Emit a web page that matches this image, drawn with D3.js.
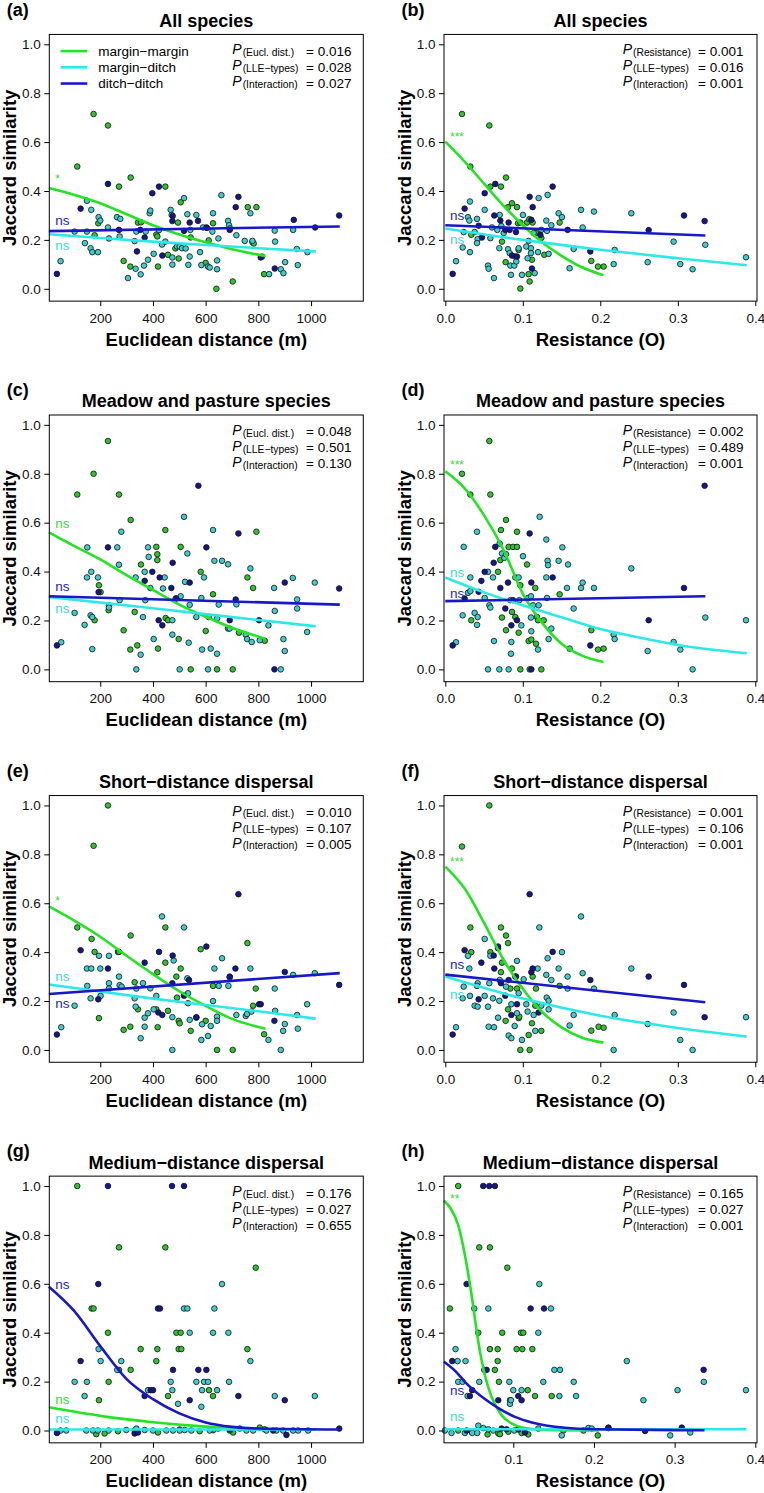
<!DOCTYPE html>
<html>
<head>
<meta charset="utf-8">
<script src="https://cdn.jsdelivr.net/npm/d3@7"></script>
<style>
  body { margin: 0; background: #fff; }
  svg { display: block; }
  text { font-family: "Liberation Sans", Arial, Helvetica, sans-serif; }
</style>
</head>
<body>
<div id="chart"></div>
<script>
// ---- data ----
// MM = margin-margin, MD = margin-ditch, DD = ditch-ditch ; x = distance (m) or resistance
const aMM = [[174.7,0.715],[229.2,0.668],[112.7,0.5],[315.3,0.455],[271,0.418],[447,0.418],[192.5,0.268],[178.5,0.219],[343,0.271],[354.5,0.272],[412.8,0.222],[416.6,0.214],[505.2,0.354],[495,0.271],[628,0.268],[543,0.21],[605,0.249],[611.6,0.198],[759.7,0.334],[792.6,0.334],[777.5,0.191],[782.5,0.185],[288.7,0.114],[314,0.091],[419,0.091],[457,0.139],[497.6,0.124],[600,0.106],[640.7,0],[702.7,0.03],[821.8,0.06],[485,0.165]];
const aMD = [[49.4,0.113],[102.6,0.234],[149.4,0.36],[165.9,0.323],[149.4,0.234],[141.8,0.187],[163.3,0.166],[169.7,0.15],[191.2,0.15],[193.7,0.293],[200,0.279],[229.2,0.251],[233,0.206],[263.4,0.293],[273.5,0.214],[276,0.286],[305.2,0.044],[334.3,0.082],[353.3,0.059],[336.8,0.234],[330.5,0.195],[366,0.095],[372.3,0.234],[381.1,0.119],[387.5,0.309],[390,0.32],[402.7,0.143],[423,0.24],[434.3,0.181],[447,0.193],[467.2,0.323],[471,0.302],[473.6,0.128],[473.6,0.099],[491.3,0.173],[501.4,0.173],[510.3,0.166],[517.9,0.371],[524.2,0.165],[530.5,0.305],[534.3,0.098],[539.4,0.132],[541.9,0.241],[564.7,0.302],[578.7,0.15],[583.7,0.097],[590,0.251],[609,0.091],[615.4,0.087],[628,0.309],[625.5,0.234],[643.2,0.116],[643.2,0.08],[648.3,0.206],[659.7,0.383],[685,0.278],[688.8,0.26],[692.6,0.247],[716.7,0.219],[748.3,0.196],[769.8,0.309],[777.5,0.196],[814.2,0.132],[840.8,0.06],[862.3,0.238],[863.5,0.193],[885.1,0.08],[895.2,0.064],[901.5,0.109],[931.9,0.241],[945.9,0.163],[949.7,0.097],[986.4,0.15]];
const aDD = [[35.5,0.061],[125.4,0.328],[229.2,0.429],[271,0.241],[339.3,0.153],[352,0.241],[368.5,0.21],[397.6,0.391],[423,0.418],[435.6,0.136],[474.8,0.298],[473.6,0.277],[517.9,0.237],[539.4,0.271],[571,0.278],[602.7,0.251],[691.3,0.241],[714.1,0.334],[724.3,0.376],[809.1,0.128],[862.3,0.083],[934.5,0.282],[1015.5,0.251],[1106.7,0.3]];
const aFitMM = [[5,0.412],[100,0.385],[200,0.35],[300,0.305],[400,0.26],[500,0.222],[600,0.19],[700,0.162],[827,0.134]];
const aFitMD = [[5,0.223],[200,0.208],[400,0.193],[600,0.179],[800,0.166],[1018,0.153]];
const aFitDD = [[5,0.236],[1109,0.255]];

const bMM = [[0.0215,0.715],[0.0568,0.668],[0.0323,0.5],[0.0783,0.455],[0.0581,0.418],[0.0718,0.418],[0.086,0.35],[0.0809,0.334],[0.0925,0.334],[0.0335,0.221],[0.0731,0.193],[0.0938,0.268],[0.0968,0.271],[0.1054,0.271],[0.1084,0.285],[0.1127,0.271],[0.117,0.228],[0.1239,0.208],[0.1277,0.139],[0.1475,0.271],[0.0778,0.109],[0.0946,0.159],[0.1075,0.06],[0.1088,0.03],[0.1118,0.119],[0.0968,0.001],[0.1884,0.114],[0.197,0.091],[0.2043,0.091]];
const bMD = [[0.0138,0.113],[0.0224,0.169],[0.0318,0.15],[0.0318,0.357],[0.0292,0.293],[0.031,0.279],[0.0237,0.232],[0.0378,0.232],[0.0409,0.286],[0.0417,0.203],[0.0409,0.187],[0.0508,0.323],[0.0551,0.095],[0.0559,0.082],[0.0581,0.207],[0.0628,0.044],[0.0602,0.251],[0.0671,0.241],[0.0697,0.166],[0.0701,0.302],[0.0723,0.257],[0.0753,0.228],[0.0809,0.162],[0.083,0.146],[0.0839,0.095],[0.0847,0.057],[0.089,0.095],[0.0903,0.132],[0.0916,0.112],[0.0946,0.166],[0.0989,0.057],[0.1002,0.302],[0.1045,0.173],[0.1062,0.125],[0.1075,0.196],[0.1105,0.166],[0.1105,0.146],[0.114,0.228],[0.1153,0.064],[0.1196,0.15],[0.1204,0.371],[0.1239,0.241],[0.1303,0.279],[0.1312,0.237],[0.132,0.384],[0.1333,0.143],[0.1368,0.26],[0.1462,0.309],[0.1505,0.293],[0.1604,0.084],[0.1656,0.163],[0.1751,0.323],[0.1772,0.251],[0.1918,0.316],[0.2185,0.159],[0.2172,0.101],[0.24,0.309],[0.2611,0.109],[0.2946,0.193],[0.3032,0.101],[0.3191,0.08],[0.3355,0.18],[0.388,0.129]];
const bDD = [[0.0095,0.061],[0.0249,0.328],[0.0508,0.391],[0.0645,0.429],[0.0632,0.3],[0.071,0.279],[0.043,0.258],[0.0473,0.21],[0.0817,0.271],[0.083,0.241],[0.0774,0.241],[0.0912,0.232],[0.086,0.136],[0.0925,0.132],[0.1088,0.376],[0.1127,0.334],[0.111,0.282],[0.1118,0.083],[0.1226,0.221],[0.1385,0.418],[0.1578,0.241],[0.1871,0.153],[0.2624,0.24],[0.308,0.3],[0.3346,0.277]];
const bFitMM = [[0,0.602],[0.025,0.52],[0.05,0.43],[0.075,0.34],[0.1,0.26],[0.125,0.19],[0.15,0.135],[0.175,0.09],[0.204,0.055]];
const bFitMD = [[0,0.247],[0.1,0.2],[0.2,0.16],[0.3,0.125],[0.389,0.096]];
const bFitDD = [[0,0.26],[0.3355,0.218]];

const cMM = [[229.2,0.934],[174.7,0.8],[112.7,0.715],[271,0.715],[315.3,0.611],[447,0.57],[792.6,0.563],[412.8,0.501],[505.2,0.501],[416.6,0.471],[416.6,0.447],[354.5,0.429],[581.2,0.399],[758.5,0.376],[195,0.344],[780,0.333],[628,0.307],[201.3,0.316],[231.7,0.242],[178.5,0.201],[330.5,0.235],[448.2,0.21],[457.1,0.201],[600.2,0.157],[288.7,0.16],[340.6,0.098],[314,0.081],[419.1,0.085],[497.6,0.124],[726.8,0.15],[824.3,0.117],[543.2,0],[643.2,0],[702.7,0],[685,0.167]];
const cMD = [[51.9,0.111],[102.6,0.231],[140.5,0.182],[150.7,0.499],[149.4,0.376],[165.9,0.399],[163.3,0.221],[169.7,0.083],[169.7,0.214],[191.2,0.376],[233,0.262],[233,0.253],[264.6,0.499],[271,0.428],[279.8,0.563],[273.5,0.283],[334.3,0.376],[353.3,0.06],[336.8,0],[362.1,0.214],[368.5,0.399],[371,0.283],[381.1,0.499],[383.7,0.46],[390,0.333],[402.7,0.124],[438.1,0.331],[444.4,0.376],[473.6,0.201],[473.6,0.142],[486.2,0.29],[501.4,0],[505.2,0.299],[517.9,0.624],[521.7,0.358],[530.5,0.474],[535.6,0.109],[539.4,0.264],[564.7,0.214],[583.7,0.292],[586.3,0.081],[593.8,0.376],[609,0],[611.6,0.214],[619.2,0.085],[628,0.57],[633.1,0.444],[643.2,0.208],[643.2,0.064],[649.6,0.265],[662.2,0.444],[685,0.43],[691.3,0.167],[716.7,0.266],[752.1,0.142],[757.2,0.124],[769.8,0.413],[774.9,0.112],[805.3,0.119],[838.2,0.18],[859.7,0.333],[862.3,0.239],[885.1,0],[895.2,0.124],[900.3,0.075],[930.7,0.374],[947.1,0.286],[947.1,0.249],[985.1,0.153],[1014.2,0.355]];
const cDD = [[35.5,0.098],[229.2,0.499],[193.7,0.316],[368.5,0.362],[397.6,0.399],[425.4,0.376],[421.6,0.201],[435.6,0.18],[474.8,0.436],[469.8,0.333],[488.8,0.29],[539.4,0.355],[572.3,0.751],[602.7,0.499],[724.3,0.556],[714.1,0.286],[691.3,0.201],[802.8,0.201],[861,0],[900.3,0.355],[1106.7,0.331]];
const cFitMM = [[5,0.56],[100,0.505],[200,0.45],[300,0.385],[400,0.325],[500,0.265],[600,0.215],[700,0.17],[827,0.125]];
const cFitMD = [[5,0.296],[400,0.25],[800,0.202],[1018,0.176]];
const cFitDD = [[5,0.299],[1109,0.265]];

const dMM = [[0.0568,0.934],[0.0215,0.8],[0.0323,0.715],[0.0581,0.715],[0.0783,0.611],[0.0718,0.57],[0.0925,0.563],[0.0817,0.501],[0.0873,0.501],[0.0925,0.501],[0.071,0.447],[0.068,0.399],[0.1054,0.429],[0.0968,0.344],[0.1161,0.333],[0.1475,0.307],[0.0335,0.201],[0.0731,0.212],[0.086,0.235],[0.0903,0.214],[0.0783,0.16],[0.0946,0.15],[0.1075,0.116],[0.111,0.122],[0.117,0.105],[0.1183,0.214],[0.1196,0.201],[0.1269,0.201],[0.1884,0.16],[0.197,0.081],[0.2043,0.085],[0.0968,0],[0.1088,0],[0.1239,0]];
const dMD = [[0.0138,0.111],[0.0237,0.501],[0.0224,0.221],[0.0292,0.313],[0.0323,0.376],[0.0323,0.32],[0.0378,0.231],[0.0409,0.563],[0.0417,0.214],[0.0409,0.182],[0.0508,0.292],[0.0551,0.399],[0.0568,0.262],[0.0581,0.253],[0.0551,0],[0.0615,0.376],[0.0628,0.116],[0.0697,0],[0.0701,0.515],[0.0731,0.474],[0.0761,0.456],[0.0783,0.471],[0.0817,0],[0.0852,0.112],[0.0847,0.064],[0.0839,0.283],[0.0903,0.376],[0.0946,0.376],[0.0981,0.18],[0.1002,0.463],[0.0955,0.283],[0.1067,0.292],[0.1105,0.299],[0.1105,0.212],[0.111,0.156],[0.1131,0.262],[0.1196,0.081],[0.1204,0.262],[0.1217,0.624],[0.1303,0.531],[0.1312,0.292],[0.132,0.444],[0.1325,0.426],[0.1303,0.376],[0.1333,0.124],[0.1368,0.167],[0.1462,0.444],[0.151,0.499],[0.157,0.333],[0.1583,0.429],[0.1604,0.085],[0.1656,0.249],[0.1751,0.333],[0.1772,0.355],[0.1918,0.333],[0.2172,0.142],[0.2185,0.124],[0.24,0.413],[0.2611,0.075],[0.2946,0.112],[0.3032,0.081],[0.3191,0],[0.3355,0.212],[0.388,0.201]];
const dDD = [[0.0095,0.098],[0.0249,0.29],[0.043,0.317],[0.0465,0.362],[0.0508,0.399],[0.0624,0.436],[0.0645,0.501],[0.071,0.333],[0.0809,0.355],[0.0774,0.249],[0.0852,0.18],[0.0873,0.283],[0.0925,0.201],[0.1088,0.556],[0.111,0.355],[0.111,0],[0.1385,0.376],[0.1871,0.098],[0.2624,0.201],[0.308,0.333],[0.3346,0.751]];
const dFitMM = [[0,0.81],[0.025,0.74],[0.05,0.63],[0.075,0.49],[0.1,0.31],[0.125,0.19],[0.15,0.105],[0.175,0.058],[0.204,0.03]];
const dFitMD = [[0,0.376],[0.05,0.315],[0.1,0.262],[0.15,0.213],[0.2,0.165],[0.25,0.13],[0.3,0.1],[0.389,0.066]];
const dFitDD = [[0,0.279],[0.3355,0.299]];

const eMM = [[229.2,1],[174.7,0.835],[112.7,0.501],[167.1,0.454],[178.5,0.401],[267.2,0.401],[271,0.401],[315.3,0.468],[447,0.501],[447,0.357],[416.6,0.318],[488.8,0.3],[505.2,0.333],[581.2,0.412],[758.5,0.437],[195,0.13],[330.5,0.277],[343.1,0.166],[412.8,0.166],[417.8,0.093],[457.1,0.16],[497.6,0.119],[501.4,0.109],[491.3,0.214],[543.2,0.078],[600.2,0.119],[628,0.262],[643.2,0],[702.7,0],[790.1,0.251],[780,0.181],[821.8,0.064],[288.7,0.082],[314,0.095]];
const eMD = [[51.9,0.093],[102.6,0.181],[149.4,0.333],[165.9,0.333],[150.7,0.262],[163.3,0.211],[195,0.385],[200,0.333],[201.3,0.221],[233,0.385],[233,0.273],[233,0.251],[271,0.3],[273.5,0.265],[281.1,0.259],[336.8,0.251],[334.3,0.177],[330.5,0.211],[353.3,0.048],[362.1,0.273],[368.5,0.132],[368.5,0.095],[381.1,0.15],[390,0.252],[402.7,0.166],[412.8,0.221],[434.3,0.546],[473.6,0.134],[473.6,0],[478.6,0.366],[517.9,0.501],[530.5,0.293],[533.1,0.232],[533.1,0.191],[539.4,0.123],[564.7,0.132],[583.7,0.041],[586.3,0.105],[609,0.057],[619.2,0.098],[628,0.2],[633.1,0.333],[643.2,0.136],[643.2,0.119],[649.6,0.262],[662.2,0.375],[686.3,0.262],[691.3,0.297],[716.7,0.143],[752.1,0.139],[757.2,0.147],[769.8,0.333],[773.7,0.157],[838.2,0.041],[862.3,0.251],[863.5,0.16],[885.1,0],[894,0.078],[900.3,0.106],[931.9,0.307],[947.1,0.143],[949.7,0.087],[985.1,0.187],[1014.2,0.314]];
const eDD = [[35.5,0.063],[125.4,0.408],[192.5,0.207],[229.2,0.333],[368.5,0.357],[423,0.401],[420.4,0.153],[435.6,0.143],[474.8,0.386],[473.6,0.273],[517.9,0.222],[536.9,0.286],[564.7,0.134],[602.7,0.423],[691.3,0.3],[712.9,0.333],[724.3,0.637],[802.8,0.187],[809.1,0.187],[861,0.119],[900.3,0.319],[1106.7,0.266]];
const eFitMM = [[5,0.587],[100,0.53],[200,0.463],[300,0.385],[400,0.31],[500,0.24],[600,0.18],[700,0.127],[827,0.087]];
const eFitMD = [[5,0.268],[400,0.21],[800,0.158],[1018,0.128]];
const eFitDD = [[5,0.229],[1109,0.314]];

const fMM = [[0.0568,1],[0.0215,0.832],[0.0323,0.501],[0.0335,0.4],[0.0581,0.4],[0.0718,0.501],[0.0783,0.468],[0.0809,0.437],[0.068,0.416],[0.0718,0.318],[0.0731,0.357],[0.086,0.333],[0.0903,0.3],[0.0925,0.251],[0.0839,0.251],[0.0809,0.166],[0.0778,0.119],[0.0946,0.13],[0.0955,0.136],[0.0968,0],[0.1088,0],[0.1075,0.061],[0.1118,0.109],[0.1127,0.3],[0.117,0.251],[0.1161,0.181],[0.1239,0.078],[0.1475,0.262],[0.1884,0.079],[0.1978,0.095],[0.2043,0.091]];
const fMD = [[0.0138,0.093],[0.0237,0.259],[0.0224,0.211],[0.0292,0.385],[0.031,0.333],[0.0318,0.221],[0.0378,0.181],[0.0417,0.177],[0.0417,0.273],[0.0409,0.262],[0.0508,0.454],[0.0508,0.221],[0.0551,0.177],[0.0559,0.095],[0.0568,0.273],[0.0581,0.385],[0.0628,0.093],[0.0615,0.211],[0.068,0.132],[0.0697,0.201],[0.0701,0.286],[0.0783,0.259],[0.0817,0.059],[0.0852,0.187],[0.0852,0.048],[0.0895,0.098],[0.0925,0.364],[0.0925,0.15],[0.0946,0.232],[0.0989,0.041],[0.1011,0.289],[0.1045,0.187],[0.1062,0.157],[0.114,0.143],[0.1161,0.078],[0.1191,0.333],[0.1213,0.501],[0.1239,0.181],[0.1303,0.307],[0.1308,0.214],[0.132,0.375],[0.1333,0.201],[0.1333,0.166],[0.1368,0.286],[0.1505,0.4],[0.1462,0.333],[0.1578,0.3],[0.1578,0.251],[0.1604,0.1],[0.1656,0.143],[0.1751,0.546],[0.1772,0.314],[0.1918,0.251],[0.2172,0],[0.2185,0.143],[0.24,0.333],[0.2611,0.106],[0.2946,0.153],[0.3032,0.041],[0.3191,0],[0.388,0.134]];
const fDD = [[0.0095,0.063],[0.0249,0.408],[0.043,0.207],[0.0465,0.357],[0.0632,0.333],[0.0624,0.386],[0.068,0.423],[0.0718,0.273],[0.0774,0.222],[0.0817,0.286],[0.0852,0.143],[0.0912,0.3],[0.0925,0.187],[0.1088,0.637],[0.111,0.318],[0.1127,0.333],[0.1204,0.153],[0.1385,0.401],[0.1871,0.286],[0.2624,0.3],[0.308,0.266],[0.3346,0.134]];
const fFitMM = [[0,0.75],[0.025,0.66],[0.05,0.52],[0.075,0.37],[0.1,0.25],[0.125,0.155],[0.15,0.092],[0.175,0.052],[0.204,0.03]];
const fFitMD = [[0,0.3],[0.1,0.21],[0.2,0.14],[0.3,0.09],[0.389,0.055]];
const fFitDD = [[0,0.308],[0.3355,0.195]];

const gMM = [[112.7,1],[271,0.749],[447,0.749],[790.1,0.666],[167.1,0.499],[174.7,0.499],[229.2,0.4],[488.8,0.4],[505.2,0.4],[353.3,0.333],[416.6,0.333],[497.6,0.333],[507.7,0.333],[758.5,0.333],[412.8,0.284],[271,0.248],[315.3,0.248],[231.7,0.199],[612.8,0.165],[195,0.124],[457.1,0.141],[628,0.141],
  [184.9,-0.015],[216.5,-0.012],[267.2,-0.003],[330.5,0.001],[419.1,-0.008],[501.4,0.004],[577.4,-0.003],[628,0.001],[704,-0.008],[729.3,0.008],[805.3,0.012],[824.3,0.005]];
const gMD = [[102.6,0.199],[149.4,0.199],[140.5,0.141],[193.7,0.333],[201.3,0.284],[279.8,0.284],[264.6,0.248],[381.1,0.165],[467.2,0.199],[473.6,0.165],[517.9,0.499],[530.5,0.499],[539.4,0.4],[495.1,0.109],[564.7,0.199],[586.3,0.165],[583.7,0.097],[593.8,0.199],[609,0.199],[628,0.4],[633.1,0.499],[643.2,0.165],[662.2,0.599],[686.3,0.4],[688.8,0.199],[769.8,0.284],[862.3,0.141],[1014.2,0.141],
  [49.4,0],[70.9,0],[146.9,0],[172.2,0],[191.2,0],[231.7,0],[298.8,0.002],[336.8,0.008],[368.5,0.002],[400.1,0],[450.8,0],[476.1,0],[501.4,0],[520.4,0.002],[545.7,0],[615.4,0],[647,0.008],[691.4,0],[754.7,0],[780,0],[830.6,0],[868.6,0],[894,0],[932,0],[951,0],[989,0]];
const gDD = [[229.2,1],[472.3,1],[517.9,1],[192.5,0.599],[419.1,0.499],[426.7,0.499],[125.4,0.284],[476.1,0.248],[572.3,0.248],[602.7,0.248],[368.5,0.141],[391.3,0.165],[400.1,0.165],[539.4,0.124],[724.3,0.141],[900.3,0.124],
  [35.5,-0.01],[330.5,-0.012],[343,-0.008],[691,0.004],[856,0],[906.6,-0.018],[1107,0.008]];
const gFitMM = [[5,0.095],[200,0.06],[400,0.034],[600,0.016],[827,0.006]];
const gFitMD = [[5,0.004],[1018,0.004]];
const gFitDD = [[5,0.588],[100,0.49],[200,0.345],[300,0.21],[400,0.128],[500,0.07],[600,0.033],[700,0.015],[800,0.008],[1109,0.004]];

const hMM = [[0.0317,1],[0.0214,0.499],[0.0578,0.749],[0.071,0.749],[0.0926,0.666],[0.0566,0.4],[0.0863,0.4],[0.1095,0.4],[0.1124,0.4],[0.071,0.333],[0.0806,0.333],[0.1041,0.333],[0.1112,0.333],[0.1236,0.333],[0.0806,0.284],[0.0772,0.248],[0.0822,0.199],[0.0959,0.124],[0.1178,0.165],[0.1269,0.141],[0.1476,0.141],
  [0.0317,0],[0.0483,-0.005],[0.0681,-0.016],[0.0814,-0.012],[0.0834,-0.015],[0.0938,-0.005],[0.1103,-0.01],[0.1186,-0.016],[0.162,0],[0.1869,0],[0.2047,-0.02]];
const hMD = [[0.0284,0.333],[0.0309,0.284],[0.0408,0.284],[0.0317,0.199],[0.0371,0.199],[0.0433,0.141],[0.0516,0.499],[0.069,0.499],[0.0578,0.199],[0.064,0.248],[0.0951,0.199],[0.0959,0.109],[0.0971,0.124],[0.1,0.165],[0.1103,0.165],[0.1323,0.599],[0.131,0.4],[0.1467,0.499],[0.1372,0.199],[0.1509,0.248],[0.1579,0.248],[0.1571,0.141],[0.1749,0.199],[0.1778,0.141],[0.2407,0.284],[0.2613,0.124],[0.3036,0.165],[0.3362,0.199],[0.3884,0.165],
  [0.0152,0],[0.0234,-0.01],[0.04,-0.01],[0.0491,-0.01],[0.0553,-0.01],[0.0566,0.02],[0.0628,0.01],[0.069,0.005],[0.0752,0],[0.1012,0],[0.1062,0.005],[0.131,0.008],[0.16,-0.02],[0.1931,0.01],[0.1972,0.008],[0.2179,0.01],[0.2945,-0.02],[0.3193,-0.008]];
const hDD = [[0.0627,1],[0.0702,1],[0.0772,1],[0.0421,0.599],[0.0243,0.284],[0.1215,0.499],[0.1381,0.499],[0.0669,0.248],[0.0491,0.165],[0.0462,0.141],[0.0814,0.124],[0.1062,0.141],[0.1103,0.124],[0.3359,0.248],
  [0.0421,0],[0.0855,0.008],[0.0917,0.005],[0.1062,0.005],[0.1145,-0.008],[0.2179,0.012],[0.2634,-0.002],[0.3089,0.012]];
const hFitMM = [[0.0141,0.94],[0.022,0.91],[0.0317,0.84],[0.04,0.718],[0.0483,0.554],[0.0566,0.363],[0.0648,0.226],[0.073,0.138],[0.0855,0.063],[0.102,0.022],[0.123,0.006],[0.15,0.001],[0.206,0]];
const hFitMD = [[0.0141,0.005],[0.389,0.005]];
const hFitDD = [[0.0141,0.281],[0.03,0.237],[0.04,0.199],[0.061,0.138],[0.081,0.093],[0.102,0.056],[0.123,0.033],[0.164,0.011],[0.2,0.005],[0.337,0.001]];

const titles = ["All species", "All species", "Meadow and pasture species", "Meadow and pasture species",
  "Short\u2212distance dispersal", "Short\u2212distance dispersal", "Medium\u2212distance dispersal", "Medium\u2212distance dispersal"];
const panelLabels = ["(a)", "(b)", "(c)", "(d)", "(e)", "(f)", "(g)", "(h)"];
const pValues = [["0.016","0.028","0.027"], ["0.001","0.016","0.001"], ["0.048","0.501","0.130"], ["0.002","0.489","0.001"],
  ["0.010","0.107","0.005"], ["0.001","0.106","0.001"], ["0.176","0.027","0.655"], ["0.165","0.027","0.001"]];
const pNamesDist = ["(Eucl. dist.)", "(LLE\u2212types)", "(Interaction)"];
const pNamesRes = ["(Resistance)", "(LLE\u2212types)", "(Interaction)"];
const legendNames = ["margin\u2212margin", "margin\u2212ditch", "ditch\u2212ditch"];
// significance labels: [text, series, y]
const sigLabels = [
  [["*","MM",0.463],["ns","DD",0.275],["ns","MD",0.176]],
  [["***","MM",0.634],["ns","DD",0.298],["ns","MD",0.198]],
  [["ns","MM",0.594],["ns","DD",0.335],["ns","MD",0.245]],
  [["***","MM",0.851],["ns","MD",0.395],["ns","DD",0.306]],
  [["*","MM",0.623],["ns","MD",0.297],["ns","DD",0.187]],
  [["***","MM",0.782],["ns","DD",0.347],["ns","MD",0.225]],
  [["ns","DD",0.595],["ns","MM",0.124],["ns","MD",0.045]],
  [["**","MM",0.959],["ns","DD",0.162],["ns","MD",0.056]]
];
const distTicks = [200, 400, 600, 800, 1000];
const resTicks = [0, 0.1, 0.2, 0.3, 0.4];
const resTicksH = [0.1, 0.2, 0.3, 0.4];
const yTicks = [0, 0.2, 0.4, 0.6, 0.8, 1.0];

// ---- styling ----
const ptFill = { MM: "#30c230", MD: "#40cccc", DD: "#16168c" };
const lineCol = { MM: "#22e422", MD: "#2ee8e8", DD: "#1818c8" };
const labCol = { MM: "#3ad83a", MD: "#3adada", DD: "#2424c0" };

const panels = [
  { mm: aMM, md: aMD, dd: aDD, fits: [aFitMM, aFitMD, aFitDD], dom: [6.6, 1198.3], ticks: distTicks, kind: "dist" },
  { mm: bMM, md: bMD, dd: bDD, fits: [bFitMM, bFitMD, bFitDD], dom: [-0.0017, 0.4022], ticks: resTicks, kind: "res" },
  { mm: cMM, md: cMD, dd: cDD, fits: [cFitMM, cFitMD, cFitDD], dom: [6.6, 1198.3], ticks: distTicks, kind: "dist" },
  { mm: dMM, md: dMD, dd: dDD, fits: [dFitMM, dFitMD, dFitDD], dom: [-0.0017, 0.4022], ticks: resTicks, kind: "res" },
  { mm: eMM, md: eMD, dd: eDD, fits: [eFitMM, eFitMD, eFitDD], dom: [6.6, 1198.3], ticks: distTicks, kind: "dist" },
  { mm: fMM, md: fMD, dd: fDD, fits: [fFitMM, fFitMD, fFitDD], dom: [-0.0017, 0.4022], ticks: resTicks, kind: "res" },
  { mm: gMM, md: gMD, dd: gDD, fits: [gFitMM, gFitMD, gFitDD], dom: [6.6, 1198.3], ticks: distTicks, kind: "dist" },
  { mm: hMM, md: hMD, dd: hDD, fits: [hFitMM, hFitMD, hFitDD], dom: [0.0141, 0.4021], ticks: resTicksH, kind: "res" }
];

const svg = d3.select("#chart").append("svg")
  .attr("width", 764)
  .attr("height", 1493);

panels.forEach((p, i) => {
  const row = Math.floor(i / 2), col = i % 2;
  const x0 = col === 0 ? 49.3 : 444, x1 = col === 0 ? 363.3 : 757;
  const top1 = 44.3 + 380.57 * row;

  const x = d3.scaleLinear().domain(p.dom).range([x0, x1]);
  const y = d3.scaleLinear().domain([0, 1]).range([top1 + 244.5, top1]);
  const bt = y(1.0404), bb = y(-0.0504);
  const g = svg.append("g");

  // points
  [["MM", p.mm], ["MD", p.md], ["DD", p.dd]].forEach(([k, pts]) => {
    g.selectAll(null).data(pts).enter().append("circle")
      .attr("cx", d => x(d[0]))
      .attr("cy", d => y(d[1]))
      .attr("r", 2.8)
      .attr("fill", ptFill[k])
      .attr("stroke", "#111")
      .attr("stroke-width", 0.8);
  });

  // fitted curves
  const line = d3.line().x(d => x(d[0])).y(d => y(d[1])).curve(d3.curveMonotoneX);
  ["MM", "MD", "DD"].forEach((k, j) => {
    g.append("path")
      .datum(p.fits[j])
      .attr("fill", "none")
      .attr("stroke", lineCol[k])
      .attr("stroke-width", 2.6)
      .attr("d", line);
  });

  // box
  g.append("rect")
    .attr("x", x0).attr("y", bt)
    .attr("width", x1 - x0).attr("height", bb - bt)
    .attr("fill", "none").attr("stroke", "#000").attr("stroke-width", 1);

  // axes
  const xAxis = d3.axisBottom(x).tickValues(p.ticks).tickSize(5).tickPadding(6.9)
    .tickFormat(p.kind === "dist" ? d3.format("d") : d3.format(".1f"));
  g.append("g").attr("transform", `translate(0,${bb})`).call(xAxis)
    .call(a => a.select(".domain").remove())
    .call(a => a.selectAll("text").attr("font-size", 13.5).attr("fill", "#111")
      .attr("font-family", "Liberation Sans, Arial, sans-serif"));

  const yAxis = d3.axisLeft(y).tickValues(yTicks).tickSize(5).tickPadding(3.5).tickFormat(d3.format(".1f"));
  g.append("g").attr("transform", `translate(${x0},0)`).call(yAxis)
    .call(a => a.select(".domain").remove())
    .call(a => a.selectAll("text").attr("font-size", 13.5).attr("fill", "#111")
      .attr("font-family", "Liberation Sans, Arial, sans-serif"));

  // titles and labels
  g.append("text")
    .attr("x", (x0 + x1) / 2).attr("y", bt - 7.5)
    .attr("text-anchor", "middle").attr("font-weight", "bold").attr("font-size", 18)
    .text(titles[i]);

  g.append("text")
    .attr("x", x0 - 42.5).attr("y", bt - 18.7)
    .attr("font-weight", "bold").attr("font-size", 18)
    .text(panelLabels[i]);

  g.append("text")
    .attr("transform", `translate(${x0 - 33},${(bt + bb) / 2}) rotate(-90)`)
    .attr("text-anchor", "middle").attr("font-weight", "bold").attr("font-size", 18.5)
    .text("Jaccard similarity");

  g.append("text")
    .attr("x", (x0 + x1) / 2).attr("y", bb + 44.5)
    .attr("text-anchor", "middle").attr("font-weight", "bold").attr("font-size", 18.5)
    .text(p.kind === "dist" ? "Euclidean distance (m)" : "Resistance (O)");

  // P-value block
  const names = p.kind === "dist" ? pNamesDist : pNamesRes;
  const pOff = p.kind === "dist" ? 183 : 178.7;
  const eqOff = p.kind === "dist" ? 256.7 : 254;
  names.forEach((nm, k) => {
    const rc = bt + 16.7 + 16 * k;
    const t = g.append("text").attr("x", x0 + pOff).attr("y", rc + 3.3);
    t.append("tspan").attr("font-style", "italic").attr("font-size", 14).text("P");
    t.append("tspan").attr("font-size", 10.3).attr("dx", 1).attr("dy", 1.7).text(nm);
    g.append("text").attr("x", x0 + eqOff).attr("y", rc + 4.8)
      .attr("font-size", 13.5).text("= " + pValues[i][k]);
  });

  // significance labels
  sigLabels[i].forEach(([txt, k, v]) => {
    g.append("text")
      .attr("x", x0 + 6).attr("y", y(v))
      .attr("dy", txt === "ns" ? "0.28em" : "0.6em")
      .attr("font-size", txt === "ns" ? 13.5 : 12)
      .attr("fill", labCol[k])
      .text(txt);
  });

  // legend (panel a only)
  if (i === 0) {
    ["MM", "MD", "DD"].forEach((k, j) => {
      const ly = bt + 16.7 + 16.2 * j;
      g.append("line").attr("x1", x0 + 11.4).attr("x2", x0 + 38)
        .attr("y1", ly).attr("y2", ly)
        .attr("stroke", lineCol[k]).attr("stroke-width", 2.6);
      g.append("text").attr("x", x0 + 49).attr("y", ly).attr("dy", "0.33em")
        .attr("font-size", 13.5).text(legendNames[j]);
    });
  }
});
</script>
</body>
</html>
